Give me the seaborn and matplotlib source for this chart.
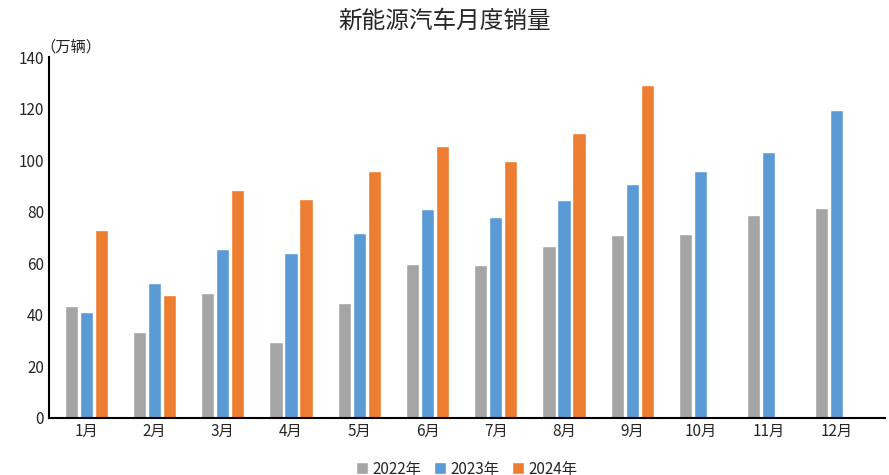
import numpy as np
import pandas as pd
import matplotlib
matplotlib.use("Agg")
import matplotlib.pyplot as plt
import seaborn as sns

months = [f"{i}月" for i in range(1, 13)]
sales_2022 = [43.3, 33.3, 48.5, 29.6, 44.6, 59.8, 59.3, 66.7, 71.0, 71.4, 78.8, 81.6]
sales_2023 = [41.0, 52.5, 65.4, 63.8, 71.9, 80.9, 78.0, 84.7, 90.9, 95.6, 103.0, 119.4]
sales_2024 = [73.0, 47.7, 88.4, 85.0, 95.6, 105.3, 99.5, 110.4, 129.2, np.nan, np.nan, np.nan]
years = ["2022年", "2023年", "2024年"]
colors = ["#a5a5a5", "#5b9bd5", "#ed7d31"]

df = pd.DataFrame({"月份": months * 3,
                   "销量": sales_2022 + sales_2023 + sales_2024,
                   "年份": [y for y in years for _ in months]})

sns.set_style("white")
plt.rcParams["font.family"] = "sans-serif"
plt.rcParams["font.sans-serif"] = ["Noto Sans CJK SC", "Noto Sans CJK JP",
                                   "Noto Sans CJK TC", "DejaVu Sans"]

fig = plt.figure(figsize=(8.89, 4.75), dpi=100)
ax = fig.add_axes([0.055, 0.12, 0.94, 0.76])
sns.barplot(data=df, x="月份", y="销量", hue="年份", palette=colors,
            width=0.66, gap=0.12, ax=ax, saturation=1)

ax.set_ylim(0, 140)
ax.set_yticks(range(0, 141, 20))
ax.set_xlim(-0.55, 11.7)
ax.set_xlabel("")
ax.set_ylabel("")
ax.tick_params(axis="both", labelsize=11, length=0)
for s in ["top", "right"]:
    ax.spines[s].set_visible(False)
for s in ["left", "bottom"]:
    ax.spines[s].set_color("black")
    ax.spines[s].set_linewidth(1.5)

fig.text(0.5, 0.955, "新能源汽车月度销量", ha="center", va="center", fontsize=17)
fig.text(0.045, 0.9, "（万辆）", ha="left", va="center", fontsize=11)
ax.legend(loc="upper center", bbox_to_anchor=(0.5, -0.08), ncol=3, frameon=False,
          fontsize=11, handlelength=0.8, handleheight=0.8, columnspacing=0.8, handletextpad=0.3)

fig.savefig("out.png", dpi=100)
